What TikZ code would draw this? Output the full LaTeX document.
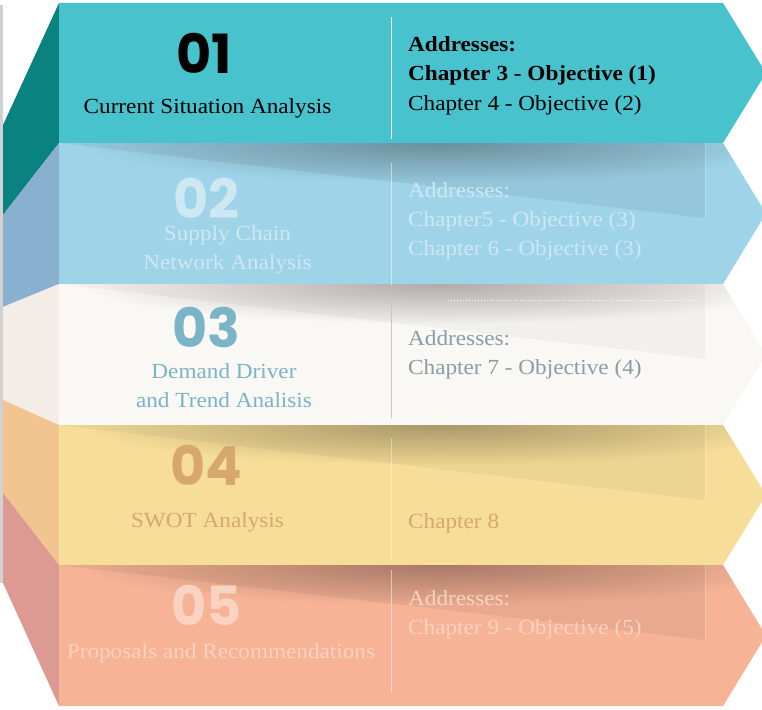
\documentclass[tikz,border=0pt]{standalone}
\usepackage{fontspec}
\setmainfont{Liberation Serif}[FakeStretch=1.08]
\newfontfamily\numfont{Poppins}
\usetikzlibrary{fadings}

\definecolor{bandA}{HTML}{48C2CC}
\definecolor{sideA}{HTML}{0A8380}
\definecolor{bandB}{HTML}{9FD4E8}
\definecolor{sideB}{HTML}{8AB0D0}
\definecolor{bandC}{HTML}{F9F8F5}
\definecolor{sideC}{HTML}{F3ECE7}
\definecolor{bandD}{HTML}{F6DD98}
\definecolor{sideD}{HTML}{F2C48F}
\definecolor{bandE}{HTML}{F6B396}
\definecolor{sideE}{HTML}{DC9A92}
\definecolor{txtB}{HTML}{CDE8F2}
\definecolor{txtC}{HTML}{7AB4C6}
\definecolor{addrC}{HTML}{8A9CA6}
\definecolor{txtD}{HTML}{D6A86E}
\definecolor{txtE}{HTML}{F9D2C2}

\tikzfading[name=softblob, inner color=transparent!72, outer color=transparent!100]

% arrow-shaped band between two heights
\newcommand{\bandshape}[2]{(59,#1) -- (723,#1) -- (766,{(#1+#2)/2}) -- (723,#2) -- (59,#2) -- cycle}
% shaded fold and soft shadow on the top of a band
\newcommand{\bandfold}[3]{%
  \begin{scope}
    \clip \bandshape{#1}{#2};
    \fill[black, opacity=#3] (59,#1) -- (705,#1) -- (705,#1+75) -- cycle;
    \draw[white, opacity=0.3, line width=0.8pt] (705,#1) -- (705,#1+75);
    \fill[black, path fading=softblob, fit fading=true] (440,#1) ellipse [x radius=360, y radius=40];
  \end{scope}}

\begin{document}
\begin{tikzpicture}[x=1pt, y=-1pt,
  num/.style={font=\numfont\bfseries\fontsize{54}{54}\selectfont, inner sep=0pt, anchor=base, text height=39pt, text depth=0pt},
  title/.style={font=\fontsize{21.5}{29}\selectfont, inner sep=0pt, anchor=base},
  addr/.style={font=\fontsize{21.5}{29}\selectfont, inner sep=0pt, anchor=base west},
  sep/.style={line width=0.9pt}]
\useasboundingbox (0,0) rectangle (762,709);
\clip (0,0) rectangle (762,709);
\fill[white] (0,0) rectangle (762,709);
\fill[black!18] (0,5) rectangle (3,583);

% folded left faces
\fill[sideA] (59,3) -- (3,125) -- (3,215) -- (59,143) -- cycle;
\fill[sideB] (59,143) -- (3,215) -- (3,307) -- (59,284) -- cycle;
\fill[sideC] (59,284) -- (3,307) -- (3,400) -- (59,425) -- cycle;
\fill[sideD] (59,425) -- (3,400) -- (3,493) -- (59,565) -- cycle;
\fill[sideE] (59,565) -- (3,493) -- (3,583) -- (59,706) -- cycle;

% bands
\fill[bandA] \bandshape{3}{143};
\fill[bandB] \bandshape{143}{284};
\bandfold{143}{284}{0.06}
\fill[bandC] \bandshape{284}{425};
\bandfold{284}{425}{0.03}
\draw[white, dotted, line width=1pt] (448,300) -- (700,300);
\fill[bandD] \bandshape{425}{565};
\bandfold{425}{565}{0.04}
\fill[bandE] \bandshape{565}{706};
\bandfold{565}{706}{0.05}

% separators
\draw[sep, white] (391.5,17) -- (391.5,139);
\draw[sep, white, opacity=0.5] (391.5,163) -- (391.5,285);
\draw[sep, black!22] (391.5,297) -- (391.5,418);
\draw[sep, white, opacity=0.4] (391.5,438) -- (391.5,560);
\draw[sep, white, opacity=0.5] (391.5,570) -- (391.5,692);

% step 01
\node[num, black] (n1) at (204,73) {01};
\node[title, black] (t1) at (207.5,113) {Current Situation Analysis};
\node[addr, black, font=\fontsize{21.5}{29}\selectfont\bfseries] (a1a) at (408,52) {Addresses:};
\node[addr, black, font=\fontsize{21.5}{29}\selectfont\bfseries] (a1b) at (408,81) {Chapter 3 - Objective (1)};
\node[addr, black] (a1c) at (408,110) {Chapter 4 - Objective (2)};

% step 02
\node[num, txtB] (n2) at (206.5,218) {02};
\node[title, txtB] (t2a) at (227.5,240) {Supply Chain};
\node[title, txtB] (t2b) at (227.5,269) {Network Analysis};
\node[addr, txtB] (a2a) at (408,197) {Addresses:};
\node[addr, txtB] (a2b) at (408,226) {Chapter5 - Objective (3)};
\node[addr, txtB] (a2c) at (408,255) {Chapter 6 - Objective (3)};

% step 03
\node[num, txtC] (n3) at (206.5,347) {03};
\node[title, txtC] (t3a) at (224,378) {Demand Driver};
\node[title, txtC] (t3b) at (224,407) {and Trend Analisis};
\node[addr, addrC] (a3a) at (408,345) {Addresses:};
\node[addr, addrC] (a3b) at (408,374) {Chapter 7 - Objective (4)};

% step 04
\node[num, txtD] (n4) at (206.5,485) {04};
\node[title, txtD] (t4) at (207.5,527) {SWOT Analysis};
\node[addr, txtD] (a4) at (408,528) {Chapter 8};

% step 05
\node[num, txtE] (n5) at (206.5,625) {05};
\node[title, txtE] (t5) at (221,658) {Proposals and Recommendations};
\node[addr, txtE] (a5a) at (408,605) {Addresses:};
\node[addr, txtE] (a5b) at (408,634) {Chapter 9 - Objective (5)};
\end{tikzpicture}
\end{document}
